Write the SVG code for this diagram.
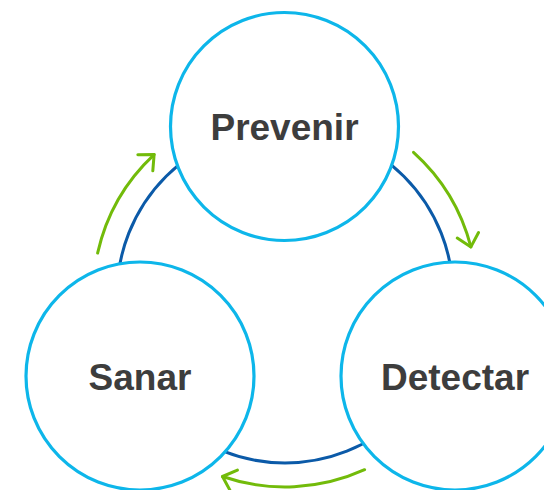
<svg xmlns="http://www.w3.org/2000/svg" width="544" height="490" viewBox="0 0 544 490">
<style>
.node{fill:#ffffff;stroke:#0db6ea;stroke-width:3.2}
.lbl{font-family:"Liberation Sans",Arial,sans-serif;font-weight:bold;font-size:37px;fill:#3d3d3d;text-anchor:middle}
.ring{fill:none;stroke:#0b5aa8;stroke-width:3}
.flow{fill:none;stroke:#72bb0a;stroke-width:3;stroke-linecap:round;marker-end:url(#ah)}
</style>
<defs>
<marker id="ah" markerUnits="userSpaceOnUse" viewBox="-16 -14 20 28" markerWidth="20" markerHeight="28" refX="0" refY="0" orient="auto">
<path d="M -12 -11 L 0 0 L -12 11" fill="none" stroke="#72bb0a" stroke-width="3" stroke-linecap="round" stroke-linejoin="round"/>
</marker>
</defs>
<rect width="544" height="490" fill="#ffffff"/>
<g id="connectors">
<circle class="ring" cx="285" cy="295" r="168"/>
<path class="flow" d="M 97.6 253.1 A 192 192 0 0 1 154.1 154.6"/>
<path class="flow" d="M 413.5 152.3 A 192 192 0 0 1 470.9 246.9"/>
<path class="flow" d="M 364.6 469.7 A 192 192 0 0 1 222.5 476.5"/>
</g>
<g id="prevenir">
<circle class="node" cx="284.5" cy="126.5" r="114"/>
<text class="lbl" x="284.5" y="140">Prevenir</text>
</g>
<g id="sanar">
<circle class="node" cx="140" cy="376" r="114"/>
<text class="lbl" x="140" y="390">Sanar</text>
</g>
<g id="detectar">
<circle class="node" cx="455" cy="376" r="114"/>
<text class="lbl" x="455" y="390">Detectar</text>
</g>
</svg>
